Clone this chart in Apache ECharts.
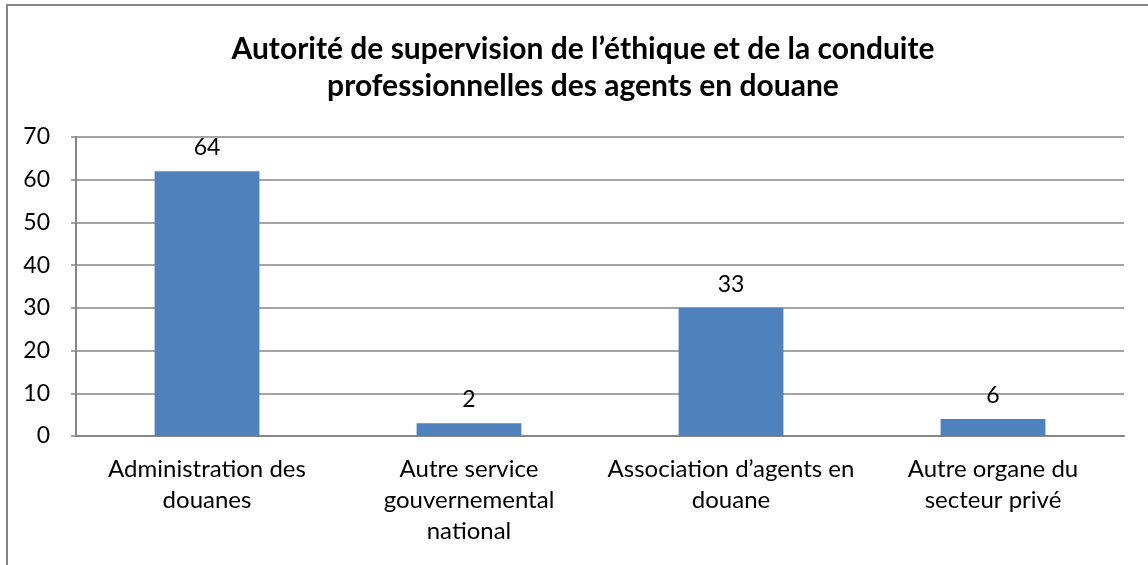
<!DOCTYPE html>
<html>
<head>
<meta charset="utf-8">
<script src="https://cdn.jsdelivr.net/npm/echarts@6/dist/echarts.min.js"></script>
<style>
    html, body { margin: 0; padding: 0; background: #fff; }
    #chart { width: 1148px; height: 565px; }
</style>
</head>
<body>
<div id="chart"></div>
<script>
    // catégories (avec retours à la ligne comme dans le graphique)
    const categories = [
        'Administration des\ndouanes',
        'Autre service\ngouvernemental\nnational',
        'Association d\u2019agents en\ndouane',
        'Autre organe du\nsecteur priv\u00e9'
    ]
    // hauteur des barres
    const barValues = [62, 3, 30, 4]
    // étiquettes affichées au-dessus des barres
    const barLabels = ['64', '2', '33', '6']
    const yTicks = [0, 10, 20, 30, 40, 50, 60, 70]

    const font = 'Lato, "Open Sans", sans-serif'
    const axisGray = '#868686'

    let chart = echarts.init(document.getElementById('chart'))
    chart.setOption({
        animation: false,
        textStyle: { fontFamily: font },
        title: {
            text: 'Autorit\u00e9 de supervision de l\u2019\u00e9thique et de la conduite\nprofessionnelles des agents en douane',
            left: 578,
            top: 26,
            textAlign: 'center',
            textStyle: {
                fontFamily: font,
                fontSize: 30,
                fontWeight: 'bold',
                color: '#000',
                lineHeight: 37
            }
        },
        graphic: [
            {
                type: 'rect',
                shape: { x: 7, y: 5, width: 1200, height: 600 },
                style: { fill: 'none', stroke: axisGray, lineWidth: 2 }
            }
        ],
        grid: {
            left: 76,
            right: 24,
            top: 137,
            bottom: 129
        },
        xAxis: {
            type: 'category',
            data: categories,
            axisLine: { lineStyle: { color: axisGray, width: 2 } },
            axisTick: { show: false },
            axisLabel: {
                color: '#000',
                fontSize: 24,
                lineHeight: 31,
                margin: 18,
                interval: 0
            }
        },
        yAxis: {
            type: 'value',
            min: yTicks[0],
            max: yTicks[yTicks.length - 1],
            interval: 10,
            axisLine: { show: true, lineStyle: { color: axisGray, width: 2 } },
            axisTick: { show: true, length: 5, lineStyle: { color: axisGray, width: 1.5 } },
            splitLine: { lineStyle: { color: axisGray, width: 1.5 } },
            axisLabel: {
                color: '#000',
                fontSize: 23,
                margin: 26
            }
        },
        series: [
            {
                type: 'bar',
                data: barValues,
                barWidth: '40%',
                itemStyle: { color: '#4F81BD' },
                label: {
                    show: true,
                    position: 'top',
                    distance: 12,
                    color: '#000',
                    fontSize: 23,
                    formatter: p => barLabels[p.dataIndex]
                }
            }
        ]
    })
</script>
</body>
</html>
